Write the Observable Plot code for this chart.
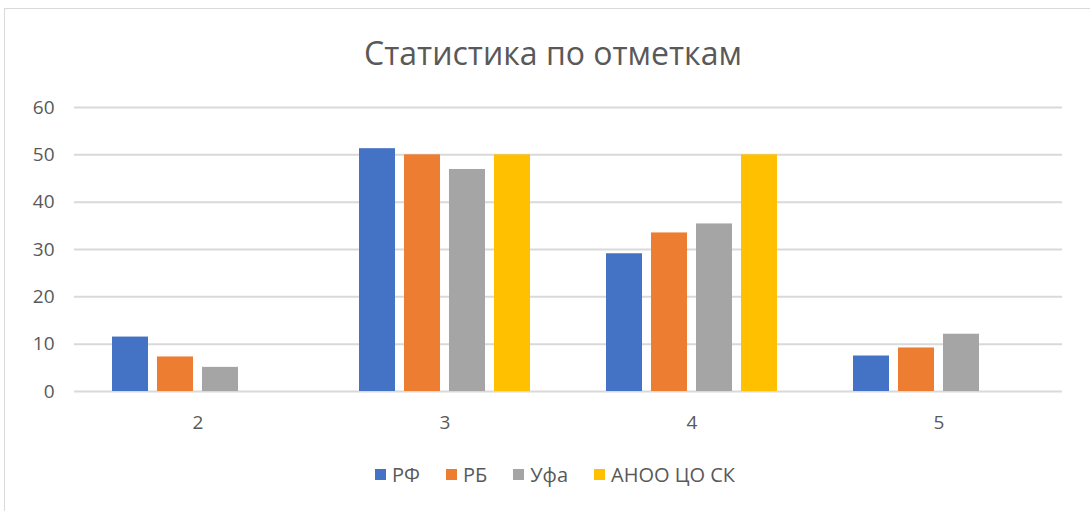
<!DOCTYPE html>
<html>
<head>
<meta charset="utf-8">
<script src="https://cdn.jsdelivr.net/npm/d3@7"></script>
<script src="https://cdn.jsdelivr.net/npm/@observablehq/plot@0.6"></script>
<style>
  html, body { margin: 0; padding: 0; background: #fff; }
  #wrap { position: relative; width: 1090px; height: 511px; overflow: hidden; font-family: "Open Sans", sans-serif; }
  #frame { position: absolute; left: 4px; top: 8px; width: 1090px; height: 520px; border: 1px solid #d9d9d9; box-sizing: border-box; }
  #title { position: absolute; left: 8px; width: 1090px; top: 31px; text-align: center; font-size: 32px; color: #595959; }
  #chart { position: absolute; left: 0; top: 80px; }
  #legend { position: absolute; left: 10px; width: 1090px; top: 461px; display: flex; justify-content: center; gap: 26px; font-size: 20px; color: #595959; }
  .item { display: flex; align-items: center; gap: 6px; }
  .sw { width: 11px; height: 11px; display: inline-block; }
</style>
</head>
<body>
<div id="wrap">
  <div id="frame"></div>
  <div id="title">Статистика по отметкам</div>
  <div id="chart"></div>
  <div id="legend"></div>
</div>
<script>
const categories = ["2", "3", "4", "5"];
const series = ["РФ", "РБ", "Уфа", "АНОО ЦО СК"];
const colors = ["#4472C4", "#ED7D31", "#A5A5A5", "#FFC000"];
const rf   = [11.5, 51.3, 29.1, 7.5];
const rb   = [7.3, 50.0, 33.5, 9.2];
const ufa  = [5.1, 46.9, 35.4, 12.1];
const anoo = [null, 50.0, 50.0, null];
const yTicks = [0, 10, 20, 30, 40, 50, 60];

const valuesBySeries = [rf, rb, ufa, anoo];
const data = [];
categories.forEach((c, i) => {
  series.forEach((s, j) => {
    const v = valuesBySeries[j][i];
    if (v != null) data.push({cat: c, series: s, value: v});
  });
});

const chart = Plot.plot({
  width: 1090,
  height: 371,
  marginLeft: 73,
  marginRight: 28,
  marginTop: 27,
  marginBottom: 60,
  style: {fontFamily: "Open Sans, sans-serif", fontSize: "19px", color: "#595959", background: "transparent"},
  fx: {domain: categories, padding: 0, label: null, axis: "bottom", tickSize: 0, tickPadding: 24},
  x: {domain: series, paddingInner: 0.2, paddingOuter: 0.844, axis: null},
  y: {domain: [0, 60], ticks: yTicks, label: null, tickSize: 0, tickPadding: 20},
  color: {domain: series, range: colors},
  marks: [
    Plot.gridY(yTicks, {stroke: "#d9d9d9", strokeOpacity: 1, strokeWidth: 2}),
    Plot.barY(data, {fx: "cat", x: "series", y: "value", fill: "series"})
  ]
});
document.getElementById("chart").appendChild(chart);

const legend = document.getElementById("legend");
series.forEach((s, j) => {
  const it = document.createElement("div");
  it.className = "item";
  const sw = document.createElement("span");
  sw.className = "sw";
  sw.style.background = colors[j];
  const t = document.createElement("span");
  t.textContent = s;
  it.appendChild(sw);
  it.appendChild(t);
  legend.appendChild(it);
});
</script>
</body>
</html>
